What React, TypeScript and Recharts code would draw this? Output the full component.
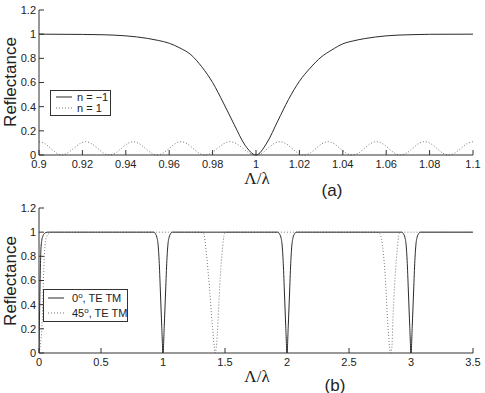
import { LineChart, Line, XAxis, YAxis } from 'recharts';

// ---- panel (a) ----
const topTicksX = [0.9, 0.92, 0.94, 0.96, 0.98, 1, 1.02, 1.04, 1.06, 1.08, 1.1];
const ticksY = [0, 0.2, 0.4, 0.6, 0.8, 1, 1.2];

const topSolidX = [0.9, 0.92, 0.93, 0.94, 0.95, 0.955, 0.96, 0.965, 0.97, 0.975, 0.98, 0.985, 0.99, 0.995, 1.0,
  1.005, 1.01, 1.015, 1.02, 1.025, 1.03, 1.035, 1.04, 1.045, 1.05, 1.06, 1.07, 1.08, 1.1];
const topSolidY = [1, 0.998, 0.995, 0.986, 0.965, 0.948, 0.925, 0.885, 0.83, 0.73, 0.6, 0.43, 0.25, 0.08, 0,
  0.1, 0.28, 0.46, 0.61, 0.72, 0.81, 0.87, 0.92, 0.945, 0.963, 0.986, 0.995, 0.999, 1];

const topDotX = [0.9, 0.9027, 0.9054, 0.9081, 0.9105, 0.913, 0.916, 0.9188, 0.9215, 0.9242, 0.927, 0.9297, 0.9325,
  0.9352, 0.938, 0.9407, 0.9435, 0.9462, 0.949, 0.9517, 0.9545, 0.9572, 0.96, 0.9627, 0.9655, 0.9682, 0.971, 0.9737,
  0.9765, 0.9794, 0.9823, 0.9851, 0.988, 0.991, 0.994, 0.997, 1.0, 1.0028, 1.0055, 1.0083, 1.011, 1.0138, 1.0166,
  1.0194, 1.0222, 1.0249, 1.0277, 1.0304, 1.0332, 1.036, 1.0388, 1.0416, 1.0444, 1.0472, 1.05, 1.0527, 1.0555,
  1.0583, 1.0611, 1.0638, 1.0666, 1.0694, 1.0722, 1.0749, 1.0777, 1.0805, 1.0833, 1.086, 1.0888, 1.0916, 1.0944,
  1.0972, 1.1];
const topDotY = [0.11, 0.094, 0.055, 0.016, 0, 0.016, 0.055, 0.094, 0.11, 0.094, 0.055, 0.016, 0,
  0.016, 0.055, 0.094, 0.11, 0.094, 0.055, 0.016, 0, 0.016, 0.055, 0.094, 0.11, 0.094, 0.055, 0.016,
  0, 0.016, 0.055, 0.094, 0.11, 0.094, 0.055, 0.016, 0, 0.016, 0.055, 0.094, 0.11, 0.094, 0.055,
  0.016, 0, 0.016, 0.055, 0.094, 0.11, 0.094, 0.055, 0.016, 0, 0.016, 0.055, 0.094, 0.11,
  0.094, 0.055, 0.016, 0, 0.016, 0.055, 0.094, 0.11, 0.094, 0.055, 0.016, 0, 0.016, 0.055,
  0.094, 0.11];

// ---- panel (b) ----
const botTicksX = [0, 0.5, 1, 1.5, 2, 2.5, 3, 3.5];

const botSolidX = [0, 0.005, 0.01, 0.015, 0.022, 0.032, 0.045, 0.065,
  0.925, 0.94, 0.95, 0.96, 0.97, 0.98, 0.99, 1, 1.01, 1.02, 1.03, 1.04, 1.05, 1.06, 1.075,
  1.925, 1.94, 1.95, 1.96, 1.97, 1.98, 1.99, 2, 2.01, 2.02, 2.03, 2.04, 2.05, 2.06, 2.075,
  2.925, 2.94, 2.95, 2.96, 2.97, 2.98, 2.99, 3, 3.01, 3.02, 3.03, 3.04, 3.05, 3.06, 3.075, 3.5];
const botSolidY = [0, 0.35, 0.65, 0.85, 0.93, 0.97, 0.99, 1,
  1, 0.985, 0.96, 0.9, 0.74, 0.48, 0.22, 0, 0.22, 0.48, 0.74, 0.9, 0.96, 0.985, 1,
  1, 0.985, 0.96, 0.9, 0.74, 0.48, 0.22, 0, 0.22, 0.48, 0.74, 0.9, 0.96, 0.985, 1,
  1, 0.985, 0.96, 0.9, 0.74, 0.48, 0.22, 0, 0.22, 0.48, 0.74, 0.9, 0.96, 0.985, 1, 1];

const botDotX = [0, 0.01, 0.02, 0.026, 0.034, 0.044, 0.052, 0.065, 0.08, 0.1,
  1.3, 1.328, 1.35, 1.374, 1.395, 1.414, 1.42, 1.43, 1.444, 1.457, 1.476, 1.497, 1.52,
  2.72, 2.746, 2.778, 2.797, 2.811, 2.827, 2.833, 2.846, 2.854, 2.867, 2.886, 2.905, 2.93, 3.5];
const botDotY = [0, 0.06, 0.16, 0.27, 0.55, 0.82, 0.92, 0.97, 0.99, 1,
  1, 0.99, 0.82, 0.55, 0.27, 0.05, 0, 0.05, 0.27, 0.55, 0.82, 0.99, 1,
  1, 0.99, 0.82, 0.55, 0.27, 0.05, 0, 0.05, 0.27, 0.55, 0.82, 0.99, 1, 1];

const zip = (xs: number[], ys: number[]) => xs.map((x, i) => ({ x, y: ys[i] }));

const INK = '#333';
const SANS = '"Liberation Sans", Arial, sans-serif';
const tickStyle = { fontSize: 11, fill: '#222', fontFamily: SANS };

function Panel({ height, top, domainX, ticksX, solid, dotted }: any) {
  return (
    <LineChart width={485} height={height} margin={{ top, right: 12, bottom: 0, left: 0 }}>
      <XAxis xAxisId="b" dataKey="x" type="number" domain={domainX} ticks={ticksX} interval={0}
        height={height - top - 145} tickSize={-5} tickMargin={10}
        stroke={INK} tick={tickStyle} allowDataOverflow />
      <XAxis xAxisId="t" orientation="top" dataKey="x" type="number" domain={domainX} ticks={ticksX}
        interval={0} height={0} tickSize={-5} tick={false} stroke={INK} />
      <YAxis yAxisId="l" type="number" domain={[0, 1.2]} ticks={ticksY} interval={0} width={39}
        tickSize={-5} tickMargin={8} stroke={INK} tick={tickStyle} />
      <YAxis yAxisId="r" orientation="right" type="number" domain={[0, 1.2]} ticks={ticksY}
        interval={0} width={0} tickSize={-5} tick={false} stroke={INK} />
      <Line xAxisId="b" yAxisId="l" data={dotted} dataKey="y" type="monotone" stroke="#777"
        strokeWidth={1} strokeDasharray="1 2" dot={false} activeDot={false} isAnimationActive={false} />
      <Line xAxisId="b" yAxisId="l" data={solid} dataKey="y" type="monotone" stroke="#2a2a2a"
        strokeWidth={1} dot={false} activeDot={false} isAnimationActive={false} />
    </LineChart>
  );
}

const txt = (extra: any) => ({
  position: 'absolute' as const, whiteSpace: 'nowrap' as const, lineHeight: 1,
  transform: 'translate(-50%, -50%)', color: '#222', ...extra,
});

export default function App() {
  return (
    <div style={{ position: 'absolute', left: 0, top: 0, width: 485, height: 393, background: '#fff' }}>
      <div style={{ position: 'absolute', left: 0, top: 0 }}>
        <Panel height={195} top={10} domainX={[0.9, 1.1]} ticksX={topTicksX}
          solid={zip(topSolidX, topSolidY)} dotted={zip(topDotX, topDotY)} />
      </div>
      <div style={{ position: 'absolute', left: 0, top: 195 }}>
        <Panel height={198} top={13} domainX={[0, 3.5]} ticksX={botTicksX}
          solid={zip(botSolidX, botSolidY)} dotted={zip(botDotX, botDotY)} />
      </div>

      <svg style={{ position: 'absolute', left: 50, top: 90 }} width={61} height={26}>
        <rect x={0.5} y={0.5} width={60} height={25} fill="#fff" stroke={INK} />
        <line x1={6} x2={22} y1={7} y2={7} stroke="#2a2a2a" />
        <text x={27} y={11} fontSize={11} fontFamily={SANS} fill="#222">n = −1</text>
        <line x1={6} x2={22} y1={18} y2={18} stroke="#777" strokeDasharray="1 2" />
        <text x={27} y={22} fontSize={11} fontFamily={SANS} fill="#222">n = 1</text>
      </svg>
      <svg style={{ position: 'absolute', left: 43, top: 289 }} width={85} height={33}>
        <rect x={0.5} y={0.5} width={84} height={32} fill="#fff" stroke={INK} />
        <line x1={5} x2={21} y1={9} y2={9} stroke="#2a2a2a" />
        <text x={29} y={13} fontSize={11} fontFamily={SANS} fill="#222">
          0<tspan dy={-4} fontSize={8}>o</tspan><tspan dy={4}>, TE TM</tspan>
        </text>
        <line x1={5} x2={21} y1={24} y2={24} stroke="#777" strokeDasharray="1 2" />
        <text x={29} y={28} fontSize={11} fontFamily={SANS} fill="#222">
          45<tspan dy={-4} fontSize={8}>o</tspan><tspan dy={4}>, TE TM</tspan>
        </text>
      </svg>

      <div style={txt({ left: 9.5, top: 81.5, fontSize: 17, fontFamily: SANS, transform: 'translate(-50%, -50%) rotate(-90deg)' })}>Reflectance</div>
      <div style={txt({ left: 9.5, top: 280.5, fontSize: 17, fontFamily: SANS, transform: 'translate(-50%, -50%) rotate(-90deg)' })}>Reflectance</div>
      <div style={txt({ left: 257, top: 178, fontSize: 17, fontFamily: '"Liberation Serif", serif' })}>Λ/λ</div>
      <div style={txt({ left: 332, top: 190, fontSize: 17, fontFamily: SANS })}>(a)</div>
      <div style={txt({ left: 257, top: 376, fontSize: 17, fontFamily: '"Liberation Serif", serif' })}>Λ/λ</div>
      <div style={txt({ left: 335, top: 385, fontSize: 17, fontFamily: SANS })}>(b)</div>
    </div>
  );
}
